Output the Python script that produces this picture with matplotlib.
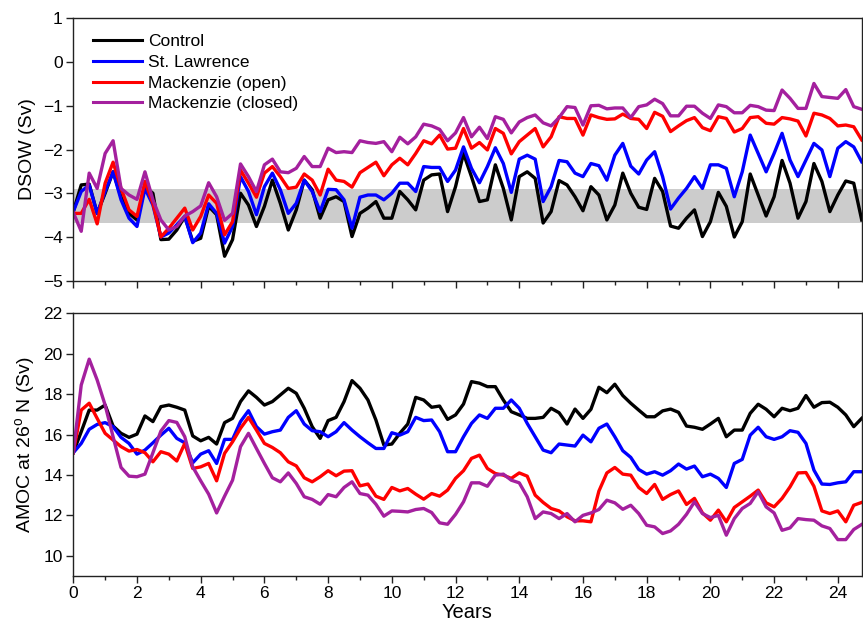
import numpy as np
import matplotlib
matplotlib.use("Agg")
import matplotlib.pyplot as plt
from matplotlib.ticker import MultipleLocator

plt.rcParams['font.family'] = ['Liberation Sans', 'DejaVu Sans']
plt.rcParams['axes.unicode_minus'] = True
plt.rcParams['mathtext.default'] = 'regular'

labels = ["Control", "St. Lawrence", "Mackenzie (open)", "Mackenzie (closed)"]
colors = ["#000000", "#0000ff", "#ff0000", "#a4209e"]
step = 0.25  # quarterly samples (years)

dsow_control = [-3.42,-2.81,-2.79,-3.46,-3.00,-2.51,-3.08,-3.46,-3.61,-2.85,-3.00,-4.06,-4.05,-3.84,-3.53,-4.10,-4.03,-3.30,-3.49,-4.44,-4.06,-3.00,-3.27,-3.76,-3.30,-2.70,-3.23,-3.84,-3.38,-2.70,-2.92,-3.57,-3.15,-3.08,-3.19,
                -3.99,-3.46,-3.34,-3.19,-3.57,-3.57,-2.96,-3.15,-3.38,-2.70,-2.58,-2.56,-3.42,-2.85,-2.09,-2.62,-3.19,-3.15,-2.35,-2.89,-3.61,-2.62,-2.51,-2.66,-3.68,-3.42,-2.71,-2.81,-3.08,-3.40,
                -2.85,-3.04,-3.61,-3.27,-2.54,-3.00,-3.32,-3.37,-2.66,-2.96,-3.75,-3.80,-3.57,-3.38,-3.99,-3.65,-2.98,-3.30,-4.00,-3.65,-2.56,-3.04,-3.52,-3.08,-2.25,-2.77,-3.57,-3.19,-2.32,-2.73,-3.42,-3.04,-2.72,-2.77,-3.61]
dsow_stlawrence = [-3.42,-2.96,-2.81,-3.46,-2.96,-2.51,-3.15,-3.57,-3.76,-2.89,-3.27,-4.00,-3.91,-3.72,-3.53,-4.13,-3.91,-3.24,-3.46,-4.14,-3.76,-2.62,-2.96,-3.49,-2.85,-2.54,-2.92,-3.46,-3.23,-2.70,-2.96,-3.42,-2.91,-2.92,-3.15,
                   -3.80,-3.09,-3.04,-3.04,-3.15,-3.00,-2.77,-2.77,-2.96,-2.39,-2.41,-2.41,-2.73,-2.47,-1.94,-2.43,-2.76,-2.39,-1.96,-2.32,-2.98,-2.22,-2.13,-2.22,-3.19,-2.85,-2.25,-2.28,-2.54,-2.62,
                   -2.32,-2.37,-2.70,-2.13,-1.86,-2.38,-2.56,-2.24,-2.05,-2.62,-3.36,-3.11,-2.89,-2.62,-2.89,-2.35,-2.35,-2.43,-3.08,-2.51,-1.67,-2.09,-2.51,-2.09,-1.63,-2.24,-2.62,-2.24,-1.86,-2.01,-2.62,-1.97,-1.82,-1.94,-2.28]
dsow_mack_open = [-3.46,-3.46,-3.14,-3.70,-2.77,-2.29,-2.89,-3.38,-3.53,-2.73,-3.23,-4.00,-3.80,-3.57,-3.34,-3.84,-3.53,-3.04,-3.23,-3.95,-3.65,-2.47,-2.77,-3.09,-2.54,-2.39,-2.62,-2.89,-2.86,-2.56,-2.70,-3.04,-2.45,-2.70,-2.73,
                  -2.86,-2.53,-2.41,-2.29,-2.60,-2.35,-2.20,-2.35,-2.09,-1.80,-1.87,-1.67,-1.99,-1.97,-1.52,-1.97,-1.84,-2.01,-1.52,-1.63,-2.10,-1.82,-1.67,-1.52,-1.94,-1.71,-1.25,-1.29,-1.29,-1.67,
                  -1.21,-1.27,-1.31,-1.30,-1.19,-1.29,-1.31,-1.52,-1.15,-1.24,-1.59,-1.46,-1.34,-1.27,-1.50,-1.57,-1.25,-1.29,-1.60,-1.52,-1.27,-1.25,-1.40,-1.42,-1.27,-1.30,-1.35,-1.69,-1.17,-1.21,-1.29,-1.46,-1.44,-1.48,-1.78]
dsow_mack_closed = [-3.44,-3.87,-2.54,-2.89,-2.09,-1.80,-2.89,-3.04,-3.14,-2.51,-3.15,-3.61,-3.84,-3.76,-3.52,-3.42,-3.29,-2.76,-3.08,-3.62,-3.46,-2.33,-2.62,-2.96,-2.35,-2.22,-2.51,-2.53,-2.43,-2.16,-2.39,-2.39,-1.97,-2.07,-2.05,
                    -2.07,-1.80,-1.84,-1.86,-1.82,-2.05,-1.72,-1.87,-1.71,-1.42,-1.46,-1.54,-1.80,-1.62,-1.27,-1.71,-1.49,-1.75,-1.25,-1.31,-1.62,-1.37,-1.27,-1.21,-1.39,-1.46,-1.27,-1.02,-1.04,-1.44,
                    -1.00,-0.99,-1.07,-1.05,-1.05,-1.27,-1.02,-0.98,-0.85,-0.95,-1.23,-1.23,-1.01,-1.01,-1.17,-1.29,-0.98,-1.02,-1.16,-1.16,-0.99,-1.02,-1.10,-1.11,-0.64,-0.83,-1.06,-1.06,-0.49,-0.79,-0.81,-0.83,-0.63,-1.02,-1.08]

amoc_control = [15.10,16.14,17.21,17.21,17.46,16.42,16.06,15.86,16.02,16.92,16.64,17.38,17.46,17.35,17.21,15.93,15.69,15.86,15.53,16.59,16.80,17.63,18.16,17.84,17.46,17.63,17.96,18.29,18.04,17.30,16.39,15.81,16.69,16.85,17.63,
                18.67,18.29,17.71,16.72,15.48,15.53,16.06,16.52,17.84,17.71,17.35,17.41,16.75,16.97,17.51,18.62,18.54,18.37,18.37,17.71,17.13,16.97,16.80,16.80,16.85,17.30,17.08,16.52,17.26,16.80,
                17.25,18.34,18.07,18.49,17.93,17.55,17.21,16.88,16.88,17.17,17.26,17.10,16.42,16.36,16.26,16.52,16.80,15.89,16.22,16.22,17.05,17.50,17.25,16.88,17.30,17.18,17.30,17.93,17.35,17.58,17.60,17.35,16.97,16.39,16.80]
amoc_stlawrence = [15.10,15.56,16.26,16.50,16.59,16.39,15.86,15.56,15.03,15.23,15.59,15.97,16.31,15.81,15.59,14.60,15.03,15.20,14.57,15.76,15.76,16.64,17.18,16.39,16.02,16.14,16.22,16.85,17.18,16.52,16.19,16.14,15.89,16.14,16.59,
                   16.22,15.89,15.59,15.31,15.31,16.09,15.97,16.14,16.85,16.69,16.72,16.14,15.15,15.15,15.89,16.55,16.97,16.80,17.30,17.30,17.71,17.30,16.55,15.89,15.23,15.10,15.53,15.48,15.43,15.97,
                   15.64,16.31,16.52,15.89,15.20,14.87,14.27,14.04,14.16,13.99,14.21,14.54,14.29,14.44,13.91,14.04,13.83,13.38,14.57,14.77,15.97,16.36,15.89,15.76,15.89,16.19,16.11,15.56,14.24,13.55,13.53,13.61,13.66,14.16,14.16]
amoc_mack_open = [15.10,17.21,17.55,16.80,16.06,15.73,15.40,15.18,15.26,15.10,14.65,15.15,15.03,14.69,15.56,14.32,14.40,14.57,13.71,15.07,15.64,16.31,16.85,16.22,15.56,15.36,15.10,14.65,14.45,13.86,13.66,13.91,14.21,13.96,14.19,
                  14.21,13.46,13.55,12.95,12.79,13.38,13.21,13.33,13.05,12.80,13.08,12.95,13.25,13.83,14.21,14.82,14.98,14.32,14.07,13.99,13.83,14.10,13.94,13.00,12.64,12.34,12.22,11.93,11.73,11.73,
                  11.68,13.20,14.10,14.37,14.04,13.99,13.38,13.08,13.53,12.79,13.03,13.21,12.54,12.84,12.12,11.76,12.26,11.68,12.39,12.67,12.95,13.25,12.62,12.42,12.84,13.41,14.10,14.12,13.44,12.22,12.09,12.22,11.68,12.50,12.64]
amoc_mack_closed = [15.10,18.45,19.73,18.70,17.46,15.89,14.37,13.94,13.91,14.04,15.10,16.17,16.69,16.60,15.89,14.40,13.71,13.05,12.12,12.95,13.74,15.40,16.06,15.31,14.57,13.86,13.66,14.10,13.58,12.92,12.79,12.55,13.03,12.92,13.38,
                    13.66,13.08,13.00,12.55,11.96,12.22,12.20,12.17,12.29,12.34,12.14,11.63,11.56,12.05,12.67,13.61,13.61,13.44,13.99,14.04,13.74,13.61,12.92,11.84,12.17,12.09,11.84,12.09,11.68,12.00,
                    12.12,12.29,12.75,12.62,12.30,12.50,12.09,11.51,11.43,11.10,11.23,11.56,12.05,12.67,12.09,11.89,12.00,11.02,11.84,12.34,12.59,13.17,12.42,12.12,11.26,11.38,11.84,11.79,11.76,11.48,11.35,10.80,10.80,11.30,11.55]

control_band = (-3.69, -2.90)

fig = plt.figure(figsize=(8.63, 6.29), dpi=100)
ax1 = fig.add_axes([0.0849, 0.5537, 0.9136, 0.4172])
ax2 = fig.add_axes([0.0849, 0.0843, 0.9136, 0.4176])

spine_col = "#222222"
for ax in (ax1, ax2):
    for s in ax.spines.values():
        s.set_color(spine_col)
        s.set_linewidth(1.0)
    ax.set_xlim(0, 24.75)
    ax.xaxis.set_major_locator(MultipleLocator(2))
    ax.xaxis.set_minor_locator(MultipleLocator(1))
    ax.tick_params(axis='both', which='major', direction='out', length=5, width=1,
                   color=spine_col, labelsize=12.5, pad=2.5, right=True, top=False)
    ax.tick_params(axis='both', which='minor', direction='out', length=3, width=1,
                   color=spine_col, right=True, top=False)

dsow = [dsow_control, dsow_stlawrence, dsow_mack_open, dsow_mack_closed]
amoc = [amoc_control, amoc_stlawrence, amoc_mack_open, amoc_mack_closed]

ax1.axhspan(control_band[0], control_band[1], color="#cccccc", lw=0, zorder=0)
for ys, c, lab in zip(dsow, colors, labels):
    x = np.arange(len(ys)) * step
    ax1.plot(x, ys, color=c, lw=2.4, label=lab)
ax1.set_ylim(-5, 1)
ax1.yaxis.set_major_locator(MultipleLocator(1))
ax1.yaxis.set_minor_locator(MultipleLocator(1))
ax1.tick_params(axis='x', labelbottom=False)
ax1.set_ylabel("DSOW (Sv)", fontsize=14, labelpad=5)

leg = ax1.legend(loc='upper left', bbox_to_anchor=(0.025, 0.94), frameon=False,
                 fontsize=12.5, handlelength=2.85, handletextpad=0.3,
                 labelspacing=0.32, borderpad=0, borderaxespad=0)
for h in leg.get_lines():
    h.set_linewidth(2.2)

for ys, c, lab in zip(amoc, colors, labels):
    x = np.arange(len(ys)) * step
    ax2.plot(x, ys, color=c, lw=2.4, label=lab)
ax2.set_ylim(9, 22)
ax2.yaxis.set_major_locator(MultipleLocator(2))
ax2.yaxis.set_minor_locator(MultipleLocator(2))
ax2.set_ylabel("AMOC at 26$^{o}$ N (Sv)", fontsize=14, labelpad=5)
ax2.set_xlabel("Years", fontsize=14.5, labelpad=1)

fig.savefig("out.png", dpi=100)
